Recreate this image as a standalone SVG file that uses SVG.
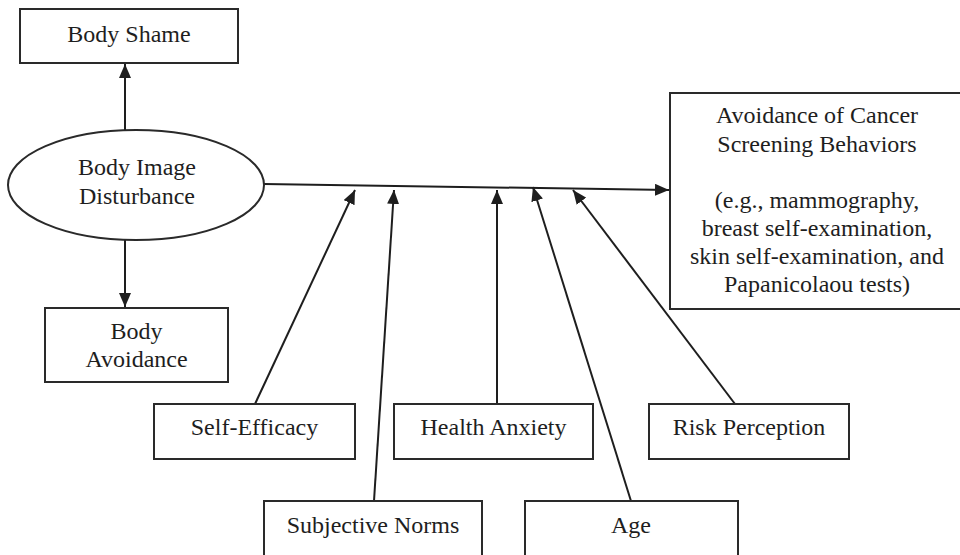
<svg xmlns="http://www.w3.org/2000/svg" width="960" height="555" viewBox="0 0 960 555">
<defs>
<style>
.box{fill:#fff;stroke:#2a2a2a;stroke-width:2}
.t{font-family:"Liberation Serif","Times New Roman",serif;font-size:24px;fill:#1e1e1e;text-anchor:middle}
.c{stroke:#1e1e1e;stroke-width:2;fill:none;marker-end:url(#ah)}
</style>
<marker id="ah" markerUnits="userSpaceOnUse" markerWidth="14" markerHeight="12" viewBox="0 0 14 12" refX="14" refY="6" orient="auto">
<path d="M0,0 L14,6 L0,12 Z" fill="#1e1e1e"/>
</marker>
</defs>
<rect width="960" height="555" fill="#fff"/>
<g id="connectors">
<line class="c" x1="125" y1="130" x2="125" y2="64"/>
<line class="c" x1="125" y1="240" x2="125" y2="307"/>
<line class="c" x1="264" y1="184" x2="669" y2="190"/>
<line class="c" x1="255" y1="404" x2="355" y2="190"/>
<line class="c" x1="374" y1="501" x2="394" y2="190"/>
<line class="c" x1="497" y1="404" x2="497" y2="190"/>
<line class="c" x1="631" y1="501" x2="533" y2="187"/>
<line class="c" x1="735" y1="404" x2="573" y2="190"/>
</g>
<g id="body-shame">
<rect class="box" x="20" y="9" width="218" height="54"/>
<text class="t" x="129" y="42">Body Shame</text>
</g>
<g id="body-image-disturbance">
<ellipse class="box" cx="136" cy="185" rx="128" ry="55" stroke-width="1.5"/>
<text class="t" x="137" y="175">Body Image</text>
<text class="t" x="137" y="204">Disturbance</text>
</g>
<g id="body-avoidance">
<rect class="box" x="45" y="308" width="183" height="74"/>
<text class="t" x="136.5" y="339">Body</text>
<text class="t" x="136.5" y="367">Avoidance</text>
</g>
<g id="avoidance-screening">
<rect class="box" x="670" y="93" width="300" height="216"/>
<text class="t" x="817" y="123">Avoidance of Cancer</text>
<text class="t" x="817" y="152">Screening Behaviors</text>
<text class="t" x="817" y="208">(e.g., mammography,</text>
<text class="t" x="817" y="236">breast self-examination,</text>
<text class="t" x="817" y="264">skin self-examination, and</text>
<text class="t" x="817" y="292">Papanicolaou tests)</text>
</g>
<g id="self-efficacy">
<rect class="box" x="154" y="404" width="201" height="55"/>
<text class="t" x="254.5" y="435">Self-Efficacy</text>
</g>
<g id="health-anxiety">
<rect class="box" x="394" y="404" width="199" height="55"/>
<text class="t" x="493.5" y="435">Health Anxiety</text>
</g>
<g id="risk-perception">
<rect class="box" x="649" y="404" width="200" height="55"/>
<text class="t" x="749" y="435">Risk Perception</text>
</g>
<g id="subjective-norms">
<rect class="box" x="264" y="501" width="218" height="60"/>
<text class="t" x="373" y="533">Subjective Norms</text>
</g>
<g id="age">
<rect class="box" x="525" y="501" width="213" height="60"/>
<text class="t" x="631" y="533">Age</text>
</g>
</svg>
